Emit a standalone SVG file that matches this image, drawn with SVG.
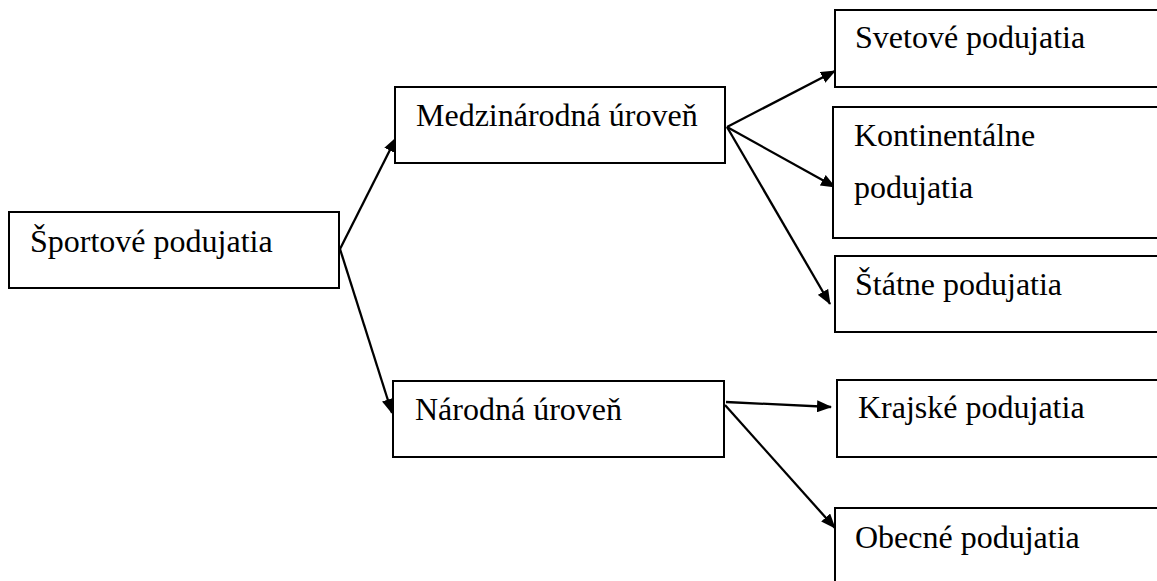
<svg xmlns="http://www.w3.org/2000/svg" width="1157" height="581" viewBox="0 0 1157 581">
<style>
.box{fill:#fff;stroke:#000;stroke-width:2}
.t{font-family:'Liberation Serif','Times New Roman',Times,serif;font-size:32px;fill:#000}
.c{stroke:#000;stroke-width:2.3;fill:none;marker-end:url(#ah)}
</style>
<defs>
<marker id="ah" markerWidth="15" markerHeight="12" refX="14" refY="6" orient="auto" markerUnits="userSpaceOnUse">
<path d="M0,0 L15,6 L0,12 z" fill="#000"/>
</marker>
</defs>
<rect width="1157" height="581" fill="#fff"/>
<g id="connectors">
<line class="c" x1="340" y1="249" x2="396" y2="138"/>
<line class="c" x1="340" y1="249" x2="392" y2="413"/>
<line class="c" x1="727" y1="127" x2="835" y2="71"/>
<line class="c" x1="727" y1="127" x2="835" y2="187"/>
<line class="c" x1="727" y1="127" x2="830" y2="304"/>
<line class="c" x1="726" y1="402" x2="831" y2="407"/>
<line class="c" x1="725" y1="405" x2="835" y2="528"/>
</g>
<g font-family="Liberation Serif, serif">
<g id="n-sportove">
<rect class="box" x="9" y="212" width="330" height="76"/>
<text class="t" x="30" y="252">Športové podujatia</text>
</g>
<g id="n-medzinarodna">
<rect class="box" x="395" y="87" width="330" height="76"/>
<text class="t" x="416" y="126">Medzinárodná úroveň</text>
</g>
<g id="n-narodna">
<rect class="box" x="393" y="381" width="331" height="76"/>
<text class="t" x="415" y="420">Národná úroveň</text>
</g>
<g id="n-svetove">
<rect class="box" x="835" y="10" width="330" height="77"/>
<text class="t" x="855" y="48">Svetové podujatia</text>
</g>
<g id="n-kontinentalne">
<rect class="box" x="833" y="107" width="330" height="131"/>
<text class="t" x="854" y="146">Kontinentálne</text>
<text class="t" x="854" y="198">podujatia</text>
</g>
<g id="n-statne">
<rect class="box" x="835" y="256" width="330" height="76"/>
<text class="t" x="855" y="295">Štátne podujatia</text>
</g>
<g id="n-krajske">
<rect class="box" x="837" y="380" width="330" height="77"/>
<text class="t" x="858" y="418">Krajské podujatia</text>
</g>
<g id="n-obecne">
<rect class="box" x="835" y="508" width="330" height="90"/>
<text class="t" x="855" y="548">Obecné podujatia</text>
</g>
</g>
</svg>
